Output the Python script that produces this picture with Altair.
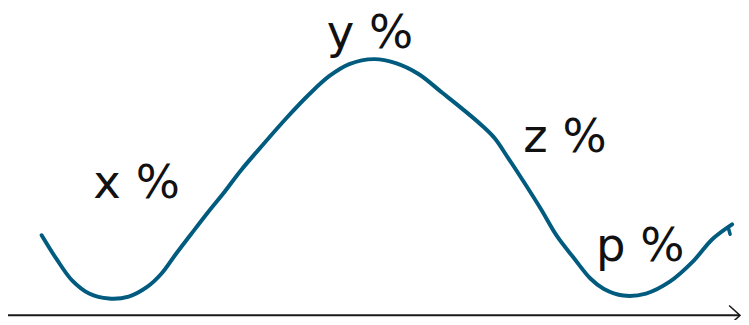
import altair as alt
import pandas as pd

# Curve (x along baseline, y height above baseline)
curve_x = [34, 49, 65, 82, 102, 122, 141, 155, 169, 185, 202, 219, 235, 259, 282, 305,
           325, 345, 370, 392, 415, 439, 459, 479, 492, 505, 522, 539, 555, 572, 589,
           602, 622, 645, 669, 692, 712, 732]
curve_y = [81, 57, 35, 22, 17, 19, 29, 42, 61, 82, 104, 125, 146, 174, 200, 224,
           242, 254, 259, 255, 244, 225, 209, 192, 179, 160, 134, 107, 80, 58, 37,
           27, 20, 22, 34, 54, 77, 92]

# small hook at the end of the curve
hook_x = [728, 730]
hook_y = [89, 82]

# labels
labels = ["x %", "y %", "z %", "p %"]
label_x = [130, 366, 563, 639]
label_y = [119, 270, 165, 55]

# baseline arrow
axis_x = [0, 740]
axis_y = [0, 0]
head_x = [729, 740, 729]
head_y = [10, 0, -10]

XD = [0, 741]
YD = [-3, 309]

def xs():
    return alt.X("x:Q", scale=alt.Scale(domain=XD, nice=False, zero=False), axis=None)

def ys():
    return alt.Y("y:Q", scale=alt.Scale(domain=YD, nice=False, zero=False), axis=None)

curve_df = pd.DataFrame({"x": curve_x, "y": curve_y, "o": range(len(curve_x))})
hook_df = pd.DataFrame({"x": hook_x, "y": hook_y, "o": range(len(hook_x))})
lab_df = pd.DataFrame({"x": label_x, "y": label_y, "t": labels})
axis_df = pd.DataFrame({"x": axis_x, "y": axis_y, "o": range(len(axis_x))})
head_df = pd.DataFrame({"x": head_x, "y": head_y, "o": range(len(head_x))})

COL = "#005b7f"

curve = alt.Chart(curve_df).mark_line(
    color=COL, strokeWidth=4, interpolate="catmull-rom", strokeCap="round", clip=False
).encode(x=xs(), y=ys(), order="o:Q")

hook = alt.Chart(hook_df).mark_line(
    color=COL, strokeWidth=3.5, strokeCap="round", clip=False
).encode(x=xs(), y=ys(), order="o:Q")

axis_line = alt.Chart(axis_df).mark_line(
    color="#1a1a1a", strokeWidth=2, clip=False
).encode(x=xs(), y=ys(), order="o:Q")

head = alt.Chart(head_df).mark_line(
    color="#1a1a1a", strokeWidth=1.5, clip=False
).encode(x=xs(), y=ys(), order="o:Q")

text = alt.Chart(lab_df).mark_text(
    font="DejaVu Sans", fontSize=47, color="#111111", align="center", baseline="alphabetic"
).encode(x=xs(), y=ys(), text="t:N")

chart = alt.layer(axis_line, head, curve, hook, text).properties(
    width=741, height=312,
    autosize=alt.AutoSizeParams(type="none"),
    padding=0,
).configure_view(stroke=None)

chart.save("out.html", embed_options={"renderer": "svg", "actions": False})
